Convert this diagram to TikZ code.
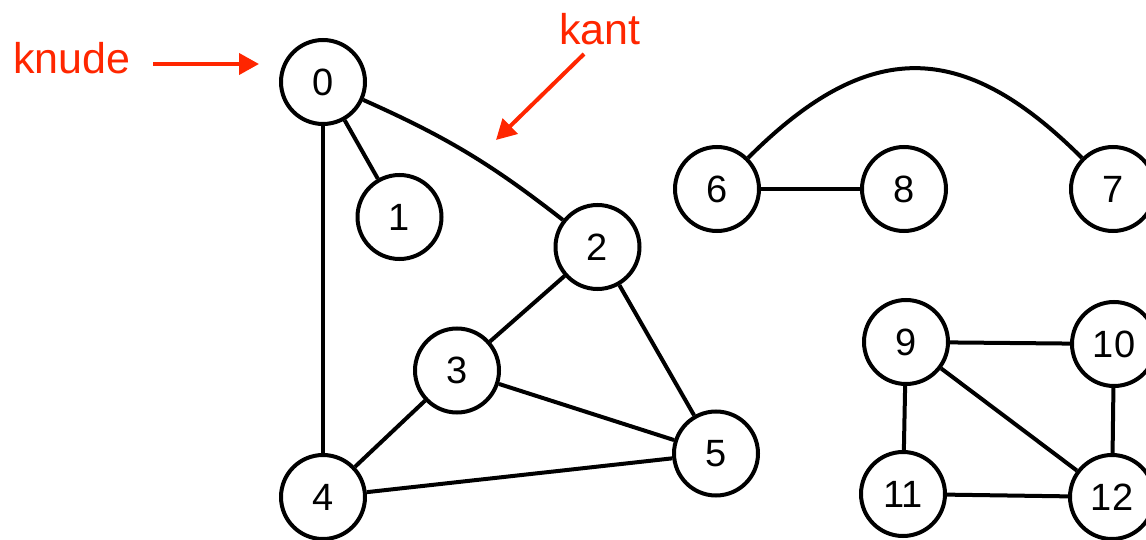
\documentclass[tikz,border=0pt]{standalone}
\usepackage{fontspec}
\setmainfont{Liberation Sans}
\usetikzlibrary{arrows.meta}
\definecolor{annred}{RGB}{255,38,0}
\tikzset{
  vertex/.style={circle,draw=black,line width=4pt,minimum size=84pt,inner sep=0pt,
    font=\fontsize{38}{40}\selectfont},
  edge/.style={line width=4pt,black},
  annot/.style={text=annred,font=\fontsize{43}{46}\selectfont,inner sep=0pt},
  annarrow/.style={annred,line width=4pt,-{Triangle[length=20pt,width=21pt]}}
}
\begin{document}
\begin{tikzpicture}[x=1pt,y=1pt]
\useasboundingbox (0,0) rectangle (1146,539);
% vertices
\node[vertex] (n0) at (323,457) {\raisebox{-2pt}{0}};
\node[vertex] (n1) at (399.5,322) {\raisebox{-2pt}{1}};
\node[vertex] (n2) at (597.5,292) {\raisebox{-2pt}{2}};
\node[vertex] (n3) at (457,168.5) {\raisebox{-2pt}{3}};
\node[vertex] (n4) at (323,42) {\raisebox{-2pt}{4}};
\node[vertex] (n5) at (716,85.5) {\raisebox{-2pt}{5}};
\node[vertex] (n6) at (717,350) {\raisebox{-2pt}{6}};
\node[vertex] (n8) at (904,350) {\raisebox{-2pt}{8}};
\node[vertex] (n7) at (1113,350) {\raisebox{-2pt}{7}};
\node[vertex] (n9) at (906,197) {\raisebox{-2pt}{9}};
\node[vertex] (n10) at (1114,195) {\raisebox{-2pt}{10}};
\node[vertex] (n11) at (903,45) {\raisebox{-2pt}{11}};
\node[vertex] (n12) at (1112,42) {\raisebox{-2pt}{12}};
% edges
\draw[edge] (n0) -- (n1);
\draw[edge] (n0) -- (n4);
\draw[edge] (n0) to[out=-24,in=142] (n2);
\draw[edge] (n2) -- (n3);
\draw[edge] (n2) -- (n5);
\draw[edge] (n3) -- (n4);
\draw[edge] (n3) -- (n5);
\draw[edge] (n4) -- (n5);
\draw[edge] (n6) -- (n8);
\draw[edge] (n6) to[out=45,in=135,looseness=1.3] (n7);
\draw[edge] (n9) -- (n10);
\draw[edge] (n9) -- (n11);
\draw[edge] (n9) -- (n12);
\draw[edge] (n10) -- (n12);
\draw[edge] (n11) -- (n12);
% annotations
\node[annot,anchor=base west] (knude) at (13,465) {knude};
\node[annot,anchor=base west] (kant) at (559,494) {kant};
\coordinate (knudeS) at (153,475);
\coordinate (knudeT) at (259,475);
\coordinate (kantS) at (584,485);
\coordinate (kantT) at (496,399);
\draw[annarrow] (knudeS) -- (knudeT);
\draw[annarrow] (kantS) -- (kantT);
\end{tikzpicture}
\end{document}
